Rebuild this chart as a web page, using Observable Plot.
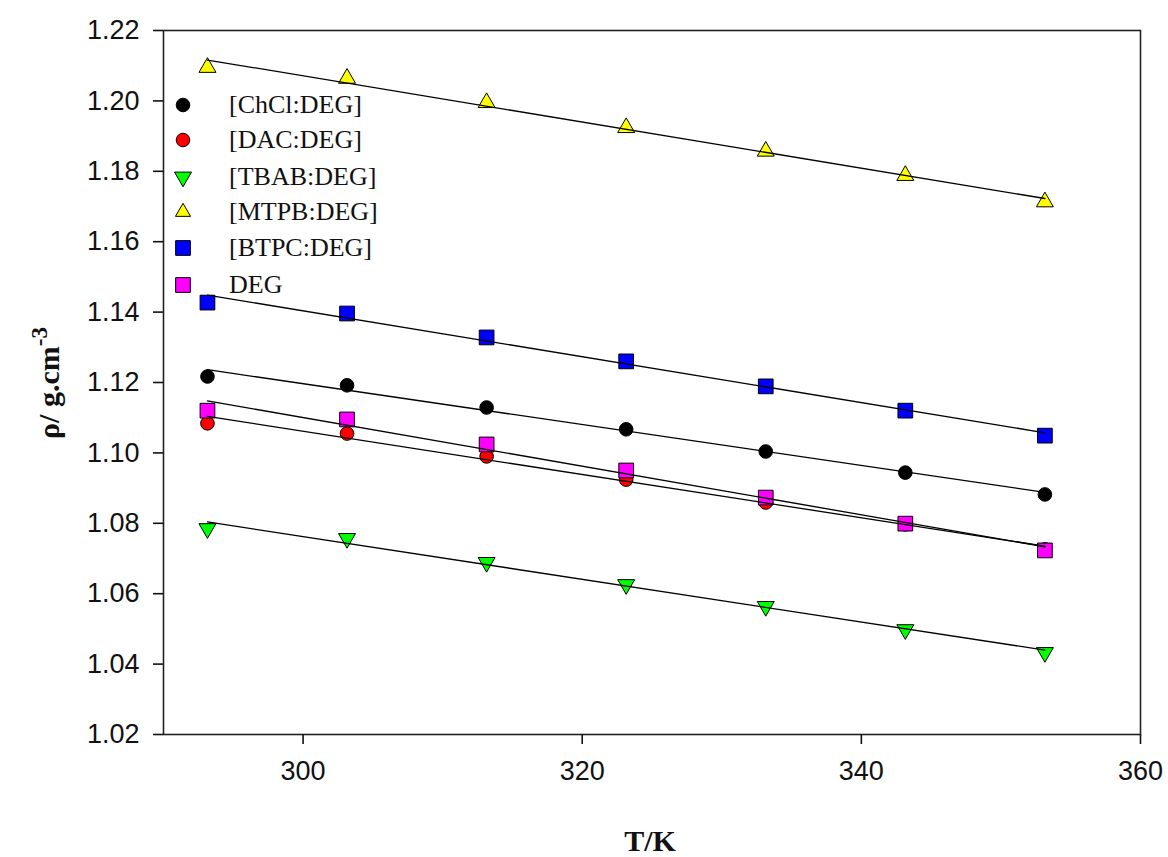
<!DOCTYPE html>
<html>
<head>
<meta charset="utf-8">
<script src="https://cdn.jsdelivr.net/npm/d3@7"></script>
<script src="https://cdn.jsdelivr.net/npm/@observablehq/plot@0.6"></script>
<style>
  body { margin: 0; background: white; }
  #wrap { position: relative; width: 1168px; height: 857px; background: white; overflow: hidden; }
  .lab { position: absolute; font-family: "Liberation Serif", "Times New Roman", serif; font-weight: bold; color: #111; white-space: nowrap; line-height: 1; }
  .leg { position: absolute; font-family: "Liberation Serif", "Times New Roman", serif; font-size: 26px; color: #111; white-space: nowrap; }
</style>
</head>
<body>
<div id="wrap"></div>
<script>
// ---- data ----
const temperatures = [293.15, 303.15, 313.15, 323.15, 333.15, 343.15, 353.15];
const seriesNames = ["[ChCl:DEG]", "[DAC:DEG]", "[TBAB:DEG]", "[MTPB:DEG]", "[BTPC:DEG]", "DEG"];
const chclDeg = [1.1217, 1.1192, 1.1129, 1.1067, 1.1004, 1.0944, 1.0882];
const dacDeg  = [1.1084, 1.1055, 1.0990, 1.0924, 1.0859, 1.0797, 1.0726];
const tbabDeg = [1.0785, 1.0757, 1.0689, 1.0626, 1.0564, 1.0498, 1.0433];
const mtpbDeg = [1.2095, 1.2064, 1.1995, 1.1924, 1.1857, 1.1788, 1.1713];
const btpcDeg = [1.1427, 1.1396, 1.1328, 1.1260, 1.1189, 1.1120, 1.1049];
const deg     = [1.1120, 1.1095, 1.1024, 1.0950, 1.0873, 1.0799, 1.0723];
const xTicks = [300, 320, 340, 360];
const yTicks = [1.02, 1.04, 1.06, 1.08, 1.10, 1.12, 1.14, 1.16, 1.18, 1.20, 1.22];

// ---- styling ----
const triangleDown = {
  draw(ctx, size) {
    const y = Math.sqrt(size / (3 * Math.sqrt(3)));
    ctx.moveTo(0, 2 * y);
    ctx.lineTo(-Math.sqrt(3) * y, -y);
    ctx.lineTo(Math.sqrt(3) * y, -y);
    ctx.closePath();
  }
};
const seriesValues = [chclDeg, dacDeg, tbabDeg, mtpbDeg, btpcDeg, deg];
const styles = [
  {fill: "#000000", symbol: "circle", r: 6.8},
  {fill: "#ff0000", symbol: "circle", r: 6.8},
  {fill: "#00ff00", symbol: triangleDown, r: 6.3},
  {fill: "#ffff00", symbol: "triangle", r: 6.3},
  {fill: "#0000ff", symbol: "square", r: 8.3},
  {fill: "#ff00ff", symbol: "square", r: 8.3}
];

const rows = [];
seriesNames.forEach((name, i) => {
  temperatures.forEach((t, j) => rows.push({name, T: t, rho: seriesValues[i][j]}));
});

const dotMarks = seriesNames.map((name, i) =>
  Plot.dot(rows.filter(d => d.name === name), {
    x: "T", y: "rho",
    fill: styles[i].fill, symbol: styles[i].symbol, r: styles[i].r,
    stroke: "#000", strokeWidth: 1
  })
);

const chart = Plot.plot({
  width: 1168,
  height: 857,
  marginLeft: 163,
  marginRight: 28,
  marginTop: 30,
  marginBottom: 123,
  style: {fontFamily: "'Liberation Sans', Arial, sans-serif", fontSize: "27px", color: "#111", background: "white"},
  x: {domain: [290, 360]},
  y: {domain: [1.02, 1.22]},
  marks: [
    ...dotMarks,
    Plot.linearRegressionY(rows, {x: "T", y: "rho", z: "name", ci: 0, stroke: "#000", strokeWidth: 1.3}),
    Plot.frame({stroke: "#222", strokeWidth: 1.6}),
    Plot.axisX({ticks: xTicks, tickSize: 10, tickPadding: 16, label: null, strokeWidth: 1.6, tickFormat: d => String(d)}),
    Plot.axisY({ticks: yTicks, tickSize: 10, tickPadding: 14, label: null, strokeWidth: 1.6, tickFormat: d => d.toFixed(2)})
  ]
});

const wrap = document.getElementById("wrap");
wrap.appendChild(chart);

// axis titles
const xl = document.createElement("div");
xl.className = "lab";
xl.style.cssText += "font-size:30px;left:650px;top:841px;transform:translate(-50%,-50%);";
xl.textContent = "T/K";
wrap.appendChild(xl);

const yl = document.createElement("div");
yl.className = "lab";
yl.style.cssText += "font-size:30px;left:46px;top:383px;transform:translate(-50%,-50%) rotate(-90deg);";
yl.innerHTML = "ρ/ g.cm<sup style='font-size:23px;vertical-align:12px;line-height:1'>-3</sup>";
wrap.appendChild(yl);

// legend
const legendRows = [105, 140, 177, 212, 248, 285];
seriesNames.forEach((name, i) => {
  const s = styles[i];
  const svg = d3.create("svg").attr("width", 24).attr("height", 24)
    .style("position", "absolute").style("left", (183 - 12) + "px").style("top", (legendRows[i] - 12) + "px");
  const sym = typeof s.symbol === "string"
    ? {circle: d3.symbolCircle, triangle: d3.symbolTriangle, square: d3.symbolSquare}[s.symbol]
    : s.symbol;
  const rr = i === 3 ? 5.6 : s.r;
  svg.append("path").attr("transform", "translate(12,12)")
    .attr("d", d3.symbol(sym, Math.PI * rr * rr)())
    .attr("fill", s.fill).attr("stroke", "#000").attr("stroke-width", 1);
  wrap.appendChild(svg.node());
  const t = document.createElement("div");
  t.className = "leg";
  t.style.left = "229px";
  t.style.top = legendRows[i] + "px";
  t.style.transform = "translateY(-50%)";
  t.textContent = name;
  wrap.appendChild(t);
});
</script>
</body>
</html>
